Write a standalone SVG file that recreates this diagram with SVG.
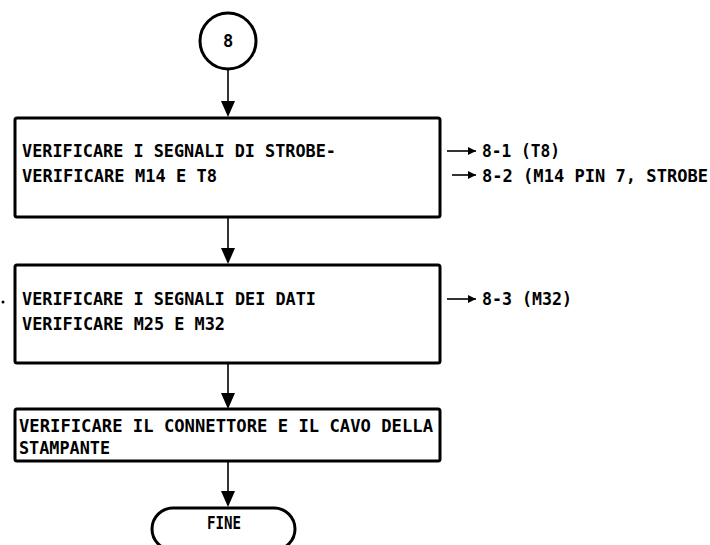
<svg xmlns="http://www.w3.org/2000/svg" width="710" height="545" viewBox="0 0 710 545">
<defs>
<style>
.box{fill:#fff;stroke:#000;stroke-width:3}
.t{font-family:"DejaVu Sans Mono","Liberation Mono",monospace;font-weight:bold;font-size:17px;fill:#000}
.c{stroke:#000;stroke-width:1.6;fill:none}
.a{stroke:#000;stroke-width:1.6;fill:none}
</style>
<marker id="sa" viewBox="0 0 8 8" refX="8" refY="4" markerWidth="8" markerHeight="8" markerUnits="userSpaceOnUse" orient="auto">
<path d="M0,0 L8,4 L0,8 Z" fill="#000"/>
</marker>
</defs>
<rect width="710" height="545" fill="#fff"/>
<g id="connectors">
<line class="c" x1="228" y1="69" x2="228" y2="110"/>
<line class="c" x1="228" y1="218" x2="228" y2="256"/>
<line class="c" x1="228" y1="364" x2="228" y2="400"/>
<line class="c" x1="228" y1="461" x2="228" y2="500"/>
<path d="M221,101 L235,101 L228,117 Z"/>
<path d="M221,248 L235,248 L228,264 Z"/>
<path d="M221,393 L235,393 L228,409 Z"/>
<path d="M221,491 L235,491 L228,507 Z"/>
<line class="a" x1="447" y1="151" x2="476" y2="151" marker-end="url(#sa)"/>
<line class="a" x1="452" y1="175" x2="476" y2="175" marker-end="url(#sa)"/>
<line class="a" x1="447" y1="299" x2="476" y2="299" marker-end="url(#sa)"/>
</g>
<g id="start">
<circle cx="228" cy="41" r="28" fill="#fff" stroke="#000" stroke-width="3"/>
<text class="t" x="228" y="47" text-anchor="middle">8</text>
</g>
<g id="step1">
<rect class="box" x="15" y="118" width="425" height="99" rx="2"/>
<text class="t" x="22" y="157" textLength="314" lengthAdjust="spacingAndGlyphs">VERIFICARE I SEGNALI DI STROBE-</text>
<text class="t" x="22" y="182" textLength="195" lengthAdjust="spacingAndGlyphs">VERIFICARE M14 E T8</text>
</g>
<g id="ref1">
<text class="t" x="482" y="157" textLength="78" lengthAdjust="spacingAndGlyphs">8-1 (T8)</text>
<text class="t" x="482" y="182" textLength="226" lengthAdjust="spacingAndGlyphs">8-2 (M14 PIN 7, STROBE</text>
</g>
<g id="step2">
<rect class="box" x="15" y="265" width="425" height="98" rx="2"/>
<text class="t" x="22" y="305" textLength="294" lengthAdjust="spacingAndGlyphs">VERIFICARE I SEGNALI DEI DATI</text>
<text class="t" x="22" y="330" textLength="203" lengthAdjust="spacingAndGlyphs">VERIFICARE M25 E M32</text>
</g>
<g id="ref2">
<text class="t" x="482" y="305" textLength="90" lengthAdjust="spacingAndGlyphs">8-3 (M32)</text>
</g>
<g id="step3">
<rect class="box" x="15" y="409" width="425" height="52" rx="2"/>
<text class="t" x="19" y="432" textLength="414" lengthAdjust="spacingAndGlyphs">VERIFICARE IL CONNETTORE E IL CAVO DELLA</text>
<text class="t" x="19" y="454" textLength="91" lengthAdjust="spacingAndGlyphs">STAMPANTE</text>
</g>
<g id="end">
<rect x="152" y="508" width="143" height="42" rx="21" fill="#fff" stroke="#000" stroke-width="3"/>
<text class="t" x="224" y="529" text-anchor="middle" textLength="34" lengthAdjust="spacingAndGlyphs">FINE</text>
</g>
<circle cx="3" cy="302" r="1.5" fill="#000"/>
</svg>
